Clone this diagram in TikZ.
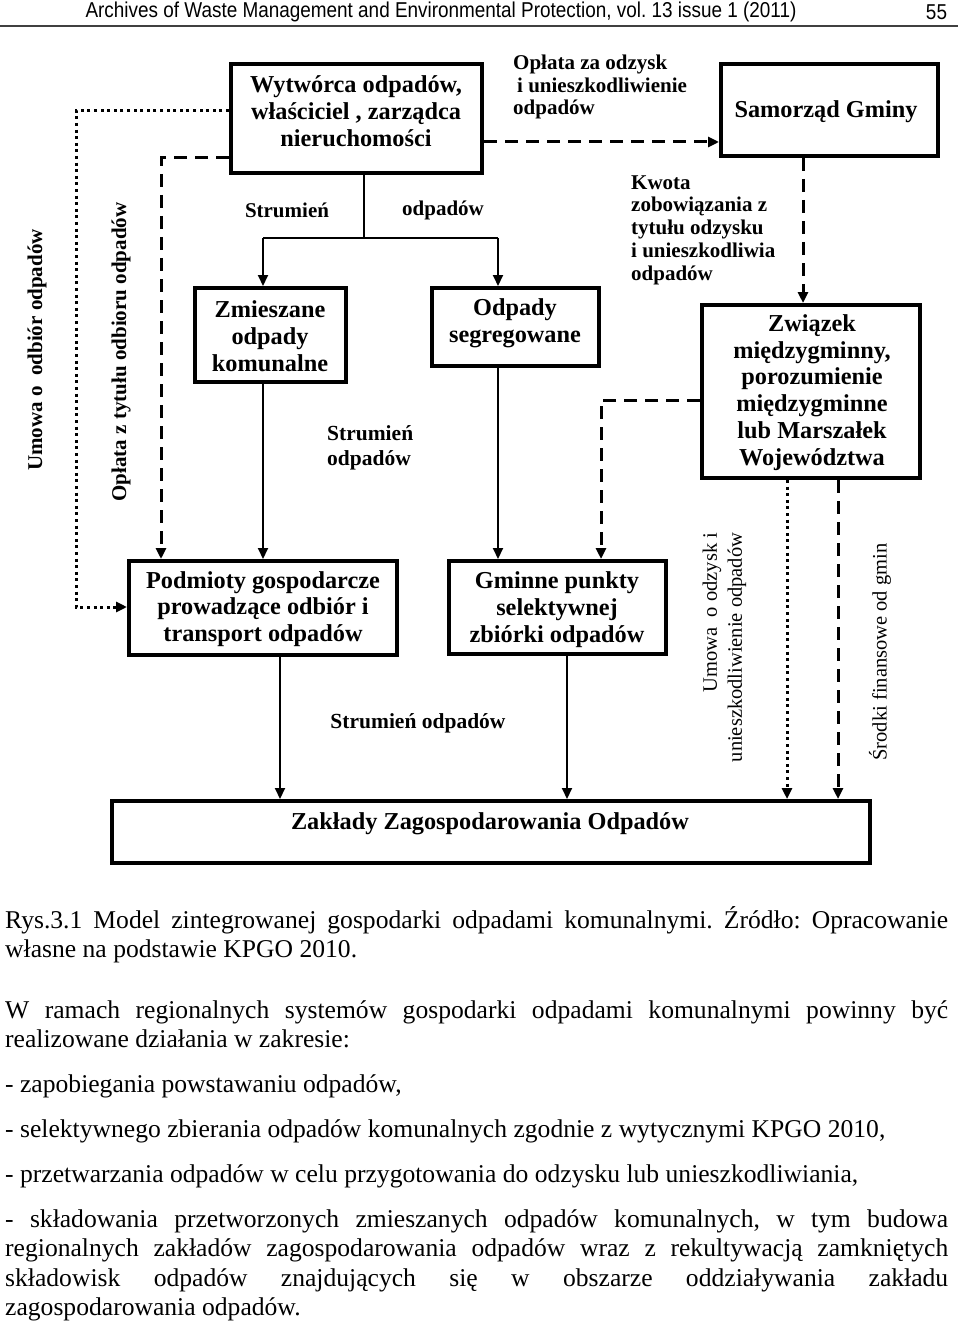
\documentclass[tikz,border=0pt]{standalone}
\usepackage{fontspec}
\setmainfont{Liberation Serif}
\newfontfamily\hdrfont[FakeStretch=0.88]{Liberation Sans}
\usetikzlibrary{arrows.meta}
\frenchspacing
\begin{document}
\begin{tikzpicture}[x=1pt,y=-1pt,
  box/.style={draw, line width=4pt, inner sep=0pt},
  boxtxt/.style={font=\fontsize{24.3}{26.8}\selectfont\bfseries, align=center, inner sep=0pt},
  lbl/.style={font=\fontsize{21}{22.8}\selectfont\bfseries, inner sep=0pt},
  rlbl/.style={font=\fontsize{20.5}{25}\selectfont, inner sep=0pt, rotate=90},
  flow/.style={line width=2pt},
  dsh/.style={line width=3pt, dash pattern=on 13pt off 8pt},
  dts/.style={line width=3pt, dash pattern=on 3pt off 3.6pt},
  tip/.style={-{Triangle[length=11pt,width=10pt]}},
  body/.style={font=\fontsize{25.6}{29.5}\selectfont, anchor=base west, inner sep=0pt},
  hdr/.style={font=\fontsize{21.5}{24}\hdrfont, inner sep=0pt}
]
\useasboundingbox (0,0) rectangle (960,1324);
\fill[white] (0,0) rectangle (960,1324);

% header
\node[hdr] (htitle) at (441,12) {Archives of Waste Management and Environmental Protection, vol. 13 issue 1 (2011)};
\node[hdr] (hpage) at (936.5,12) {55};
\coordinate (hl1) at (0,26);
\coordinate (hl2) at (958,26);
\draw[line width=2pt, black!75] (hl1) -- (hl2);

% boxes
\node[box, minimum width=251pt, minimum height=109pt] (wyt) at (356.5,118.5) {};
\node[box, minimum width=217pt, minimum height=92pt] (sam) at (829.5,110) {};
\node[box, minimum width=151pt, minimum height=94pt] (zmi) at (270.5,335) {};
\node[box, minimum width=167pt, minimum height=78pt] (seg) at (515.5,327) {};
\node[box, minimum width=218pt, minimum height=173pt] (zw) at (811,391.5) {};
\node[box, minimum width=268pt, minimum height=94pt] (pod) at (263,608) {};
\node[box, minimum width=217pt, minimum height=93pt] (gmi) at (557.5,607.5) {};
\node[box, minimum width=758pt, minimum height=62pt] (zak) at (491,832) {};

\node[boxtxt] (wyt-t) at (356,111) {Wytwórca odpadów,\\właściciel , zarządca\\nieruchomości};
\node[boxtxt] (sam-t) at (826,112) {Samorząd Gminy};
\node[boxtxt] (zmi-t) at (270,336) {Zmieszane\\odpady\\komunalne};
\node[boxtxt] (seg-t) at (515,323.5) {Odpady\\segregowane};
\node[boxtxt] (zw-t) at (812,392.5) {Związek\\międzygminny,\\porozumienie\\międzygminne\\lub Marszałek\\Województwa};
\node[boxtxt] (pod-t) at (263,609) {Podmioty gospodarcze\\prowadzące odbiór i\\transport odpadów};
\node[boxtxt] (gmi-t) at (557,609.5) {Gminne punkty\\selektywnej\\zbiórki odpadów};
\node[boxtxt] (zak-t) at (490,824) {Zakłady Zagospodarowania Odpadów};

% helper coordinates
\coordinate (j1) at (364,238);
\coordinate (jL) at (263,238);
\coordinate (jR) at (498,238);
\coordinate (xp) at (280,730);
\coordinate (xg) at (567,730);
\coordinate (fee) at (600,142);
\coordinate (cOp) at (161,158);
\coordinate (cUm) at (76,111);
\coordinate (cUm2) at (76,607);
\coordinate (cK) at (803,230);
\coordinate (cZ) at (601,400);
\coordinate (xd1) at (787,640);
\coordinate (xd2) at (838,640);

% solid flows
\draw[flow] (wyt.south -| j1) -- (j1);
\draw[flow] (jL) -- (jR);
\draw[flow,tip] (jL) -- (zmi.north -| jL);
\draw[flow,tip] (jR) -- (seg.north -| jR);
\draw[flow,tip] (zmi.south -| jL) -- (pod.north -| jL);
\draw[flow,tip] (seg.south -| jR) -- (gmi.north -| jR);
\draw[flow,tip] (pod.south -| xp) -- (zak.north -| xp);
\draw[flow,tip] (gmi.south -| xg) -- (zak.north -| xg);

% dashed
\draw[dsh,tip] (wyt.east |- fee) -- (sam.west |- fee);
\draw[dsh,tip] (wyt.west |- cOp) -- (cOp) -- (pod.north -| cOp);
\draw[dsh,tip] (sam.south -| cK) -- (zw.north -| cK);
\draw[dsh,tip] (zw.west |- cZ) -- (cZ) -- (gmi.north -| cZ);
\draw[dsh,tip] (zw.south -| xd2) -- (zak.north -| xd2);

% dotted
\draw[dts,tip] (wyt.west |- cUm) -- (cUm) -- (cUm2) -- (pod.west |- cUm2);
\draw[dts,tip] (zw.south -| xd1) -- (zak.north -| xd1);

% labels
\node[lbl] (l1) at (287,210) {Strumień};
\node[lbl] (l2) at (443,210) {odpadów};
\node[lbl, anchor=west, align=left] (l3) at (513,87) {Opłata za odzysk\\\hspace*{4pt}i unieszkodliwienie\\odpadów};
\node[lbl, anchor=west, align=left] (l4) at (631,230) {Kwota\\zobowiązania z\\tytułu odzysku\\i unieszkodliwia\\odpadów};
\node[lbl, anchor=west, align=left, font=\fontsize{21.5}{25}\selectfont\bfseries] (l5) at (327,447.5) {Strumień\\odpadów};
\node[lbl, font=\fontsize{21.5}{25}\selectfont\bfseries] (l6) at (418,723) {Strumień odpadów};
\node[lbl, rotate=90] (l7) at (37,350) {Umowa o\ \ odbiór odpadów};
\node[lbl, rotate=90] (l8) at (121,352) {Opłata z tytułu odbioru odpadów};
\node[rlbl, align=right] (l9) at (724.5,647.5) {Umowa\ \ o odzysk i\\unieszkodliwienie odpadów};
\node[rlbl] (l10) at (880,652) {Środki finansowe od gmin};

% body text
\node[body] (b1) at (5,928) {\makebox[943pt][s]{Rys.3.1 Model zintegrowanej gospodarki odpadami komunalnymi. Źródło: Opracowanie}};
\node[body] (b2) at (5,957) {własne na podstawie KPGO 2010.};
\node[body] (b3) at (5,1018) {\makebox[943pt][s]{W ramach regionalnych systemów gospodarki odpadami komunalnymi powinny być}};
\node[body] (b4) at (5,1047) {realizowane działania w zakresie:};
\node[body] (b5) at (5,1092) {- zapobiegania powstawaniu odpadów,};
\node[body] (b6) at (5,1137) {- selektywnego zbierania odpadów komunalnych zgodnie z wytycznymi KPGO 2010,};
\node[body] (b7) at (5,1182) {- przetwarzania odpadów w celu przygotowania do odzysku lub unieszkodliwiania,};
\node[body] (b8) at (5,1227) {\makebox[943pt][s]{- składowania przetworzonych zmieszanych odpadów komunalnych, w tym budowa}};
\node[body] (b9) at (5,1256) {\makebox[943pt][s]{regionalnych zakładów zagospodarowania odpadów wraz z rekultywacją zamkniętych}};
\node[body] (b10) at (5,1286) {\makebox[943pt][s]{składowisk odpadów znajdujących się w obszarze oddziaływania zakładu}};
\node[body] (b11) at (5,1315) {zagospodarowania odpadów.};
\end{tikzpicture}
\end{document}
